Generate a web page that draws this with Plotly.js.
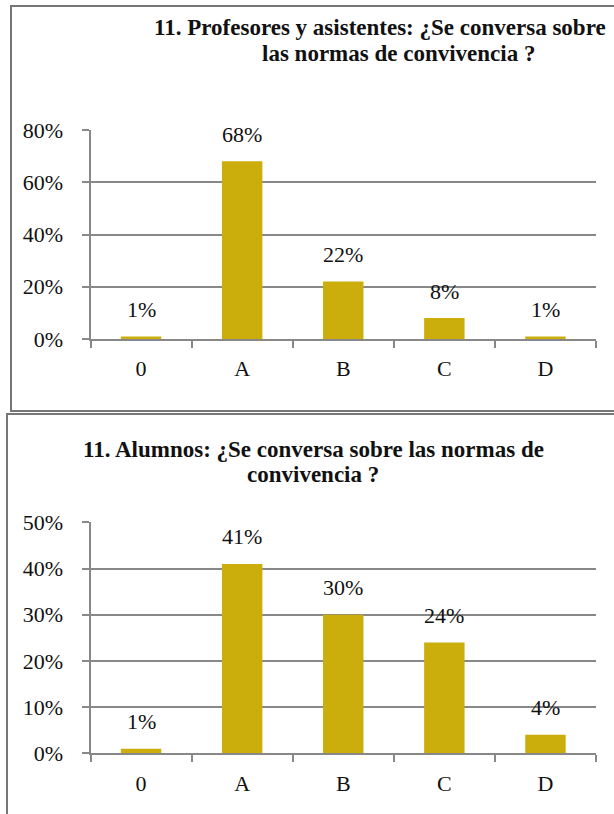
<!DOCTYPE html>
<html>
<head>
<meta charset="utf-8">
<script src="https://cdn.plot.ly/plotly-3.0.1.min.js"></script>
<style>
  html, body { margin: 0; padding: 0; background: #ffffff; }
  #chart { width: 614px; height: 814px; }
</style>
</head>
<body>
<div id="chart"></div>
<script>
// Answer categories shared by both surveys
const categories = ['0', 'A', 'B', 'C', 'D'];

// 11. Profesores y asistentes (percent of answers)
const staffValues = [1, 68, 22, 8, 1];
const staffTitle = ['11. Profesores y asistentes: ¿Se conversa sobre', 'las normas de convivencia ?'];
const staffTicks = [0, 20, 40, 60, 80];

// 11. Alumnos (percent of answers)
const studentValues = [1, 41, 30, 24, 4];
const studentTitle = ['11. Alumnos: ¿Se conversa sobre las normas de', 'convivencia ?'];
const studentTicks = [0, 10, 20, 30, 40, 50];

const W = 614, H = 814;
const px = x => x / W;          // pixel column -> paper x
const py = y => 1 - y / H;      // pixel row -> paper y

const FONT = "'Liberation Serif', 'Times New Roman', serif";
const BAR = '#CBAE0C';
const GRID = '#888888';
const FRAME = '#767676';

function yAxis(ticks, domain) {
  return {
    domain: domain,
    range: [0, ticks[ticks.length - 1]],
    tickvals: ticks,
    ticktext: ticks.map(t => t + '%'),
    showgrid: true, gridcolor: GRID, gridwidth: 2,
    zeroline: false,
    showline: true, linecolor: GRID, linewidth: 2,
    ticks: 'outside', ticklen: 7, tickwidth: 2, tickcolor: GRID,
    ticklabelstandoff: 14,
    tickfont: { family: FONT, size: 22, color: '#111' },
    fixedrange: true
  };
}

function xAxis(anchor) {
  return {
    domain: [px(90.5), px(596)],
    anchor: anchor,
    type: 'category',
    range: [-0.5, categories.length - 0.5],
    showgrid: false, zeroline: false,
    showline: true, linecolor: GRID, linewidth: 2,
    ticks: 'outside', tickson: 'boundaries', ticklen: 7, tickwidth: 2, tickcolor: GRID,
    ticklabelstandoff: 9,
    tickfont: { family: FONT, size: 22, color: '#111' },
    fixedrange: true
  };
}

const traces = [
  { type: 'bar', x: categories, y: staffValues, xaxis: 'x', yaxis: 'y',
    marker: { color: BAR }, hoverinfo: 'skip' },
  { type: 'bar', x: categories, y: studentValues, xaxis: 'x2', yaxis: 'y2',
    marker: { color: BAR }, hoverinfo: 'skip' }
];

// value labels above each bar
function valueLabels(values, xref, yref) {
  return values.map((v, i) => ({
    x: categories[i], y: v, xref: xref, yref: yref,
    text: v + '%', showarrow: false,
    xanchor: 'center', yanchor: 'middle', yshift: 27,
    font: { family: FONT, size: 22, color: '#111' }
  }));
}

function titleLines(lines, xs, ys) {
  return lines.map((t, i) => ({
    x: px(xs[i]), y: py(ys[i]), xref: 'paper', yref: 'paper',
    text: '<b>' + t + '</b>', showarrow: false,
    xanchor: 'center', yanchor: 'middle',
    font: { family: FONT, size: 23, color: '#111' }
  }));
}

const annotations = []
  .concat(titleLines(staffTitle, [380, 398], [27, 53]))
  .concat(titleLines(studentTitle, [313, 313], [449, 474]))
  .concat(valueLabels(staffValues, 'x', 'y'))
  .concat(valueLabels(studentValues, 'x2', 'y2'));

const shapes = [
  { type: 'rect', xref: 'paper', yref: 'paper',
    x0: px(11), x1: px(720), y0: py(411), y1: py(6),
    line: { color: FRAME, width: 2 }, fillcolor: 'rgba(0,0,0,0)' },
  { type: 'rect', xref: 'paper', yref: 'paper',
    x0: px(7), x1: px(720), y0: py(900), y1: py(414),
    line: { color: FRAME, width: 2 }, fillcolor: 'rgba(0,0,0,0)' }
];

const layout = {
  width: W, height: H,
  margin: { l: 0, r: 0, t: 0, b: 0 },
  paper_bgcolor: '#ffffff', plot_bgcolor: '#ffffff',
  showlegend: false,
  bargap: 0.6,
  xaxis: xAxis('y'),
  yaxis: yAxis(staffTicks, [py(339), py(130)]),
  xaxis2: xAxis('y2'),
  yaxis2: Object.assign(yAxis(studentTicks, [py(753.3), py(522.3)]), { anchor: 'x2' }),
  annotations: annotations,
  shapes: shapes
};
layout.yaxis.anchor = 'x';

Plotly.newPlot('chart', traces, layout, { displayModeBar: false, staticPlot: true });
</script>
</body>
</html>
